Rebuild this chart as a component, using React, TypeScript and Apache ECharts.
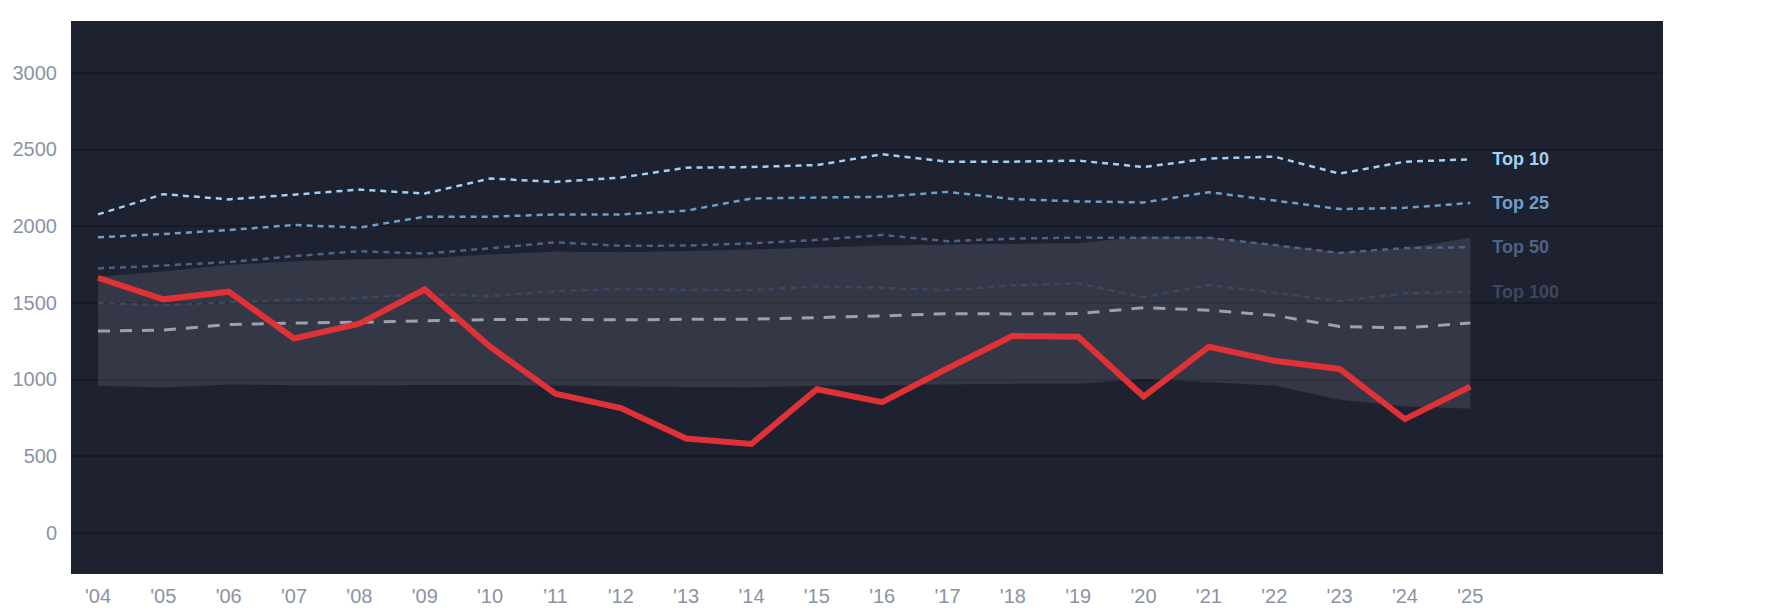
import React, { useEffect, useRef } from "react";
import * as echarts from "echarts";

const years = [2004, 2005, 2006, 2007, 2008, 2009, 2010, 2011, 2012, 2013, 2014, 2015, 2016, 2017, 2018, 2019, 2020, 2021, 2022, 2023, 2024, 2025];
const top10 = [2076, 2208, 2174, 2205, 2238, 2212, 2310, 2288, 2316, 2381, 2385, 2398, 2468, 2420, 2420, 2427, 2385, 2440, 2453, 2342, 2420, 2435];
const top25 = [1927, 1948, 1974, 2007, 1990, 2061, 2061, 2076, 2076, 2100, 2180, 2186, 2191, 2223, 2176, 2161, 2154, 2221, 2167, 2111, 2119, 2150];
const top50 = [1724, 1743, 1765, 1804, 1836, 1820, 1855, 1894, 1871, 1873, 1887, 1910, 1942, 1901, 1918, 1925, 1923, 1923, 1876, 1825, 1857, 1862];
const top100 = [1498, 1483, 1503, 1520, 1531, 1557, 1542, 1576, 1589, 1585, 1581, 1607, 1598, 1581, 1613, 1626, 1537, 1615, 1566, 1511, 1561, 1570];
const median = [1315, 1321, 1358, 1367, 1373, 1382, 1390, 1392, 1388, 1392, 1393, 1403, 1414, 1429, 1427, 1429, 1468, 1451, 1418, 1345, 1336, 1367];
const main = [1663, 1522, 1572, 1267, 1364, 1587, 1213, 906, 813, 614, 579, 936, 852, 1072, 1284, 1278, 888, 1213, 1122, 1068, 741, 953];
const bandUpper = [1670, 1704, 1747, 1771, 1784, 1790, 1814, 1834, 1830, 1838, 1847, 1860, 1873, 1879, 1884, 1888, 1932, 1928, 1880, 1830, 1856, 1922];
const bandLower = [958, 947, 966, 962, 960, 963, 964, 960, 955, 951, 948, 958, 962, 966, 971, 971, 1003, 981, 960, 867, 824, 808];

const FONT = "'Liberation Sans', Arial, Helvetica, sans-serif";
const AXIS_TEXT = "#8a93a5";

const pairs = (vals: number[]) => years.map((y, i) => [y, vals[i]]);

function dottedLine(name: string, vals: number[], color: string) {
  return {
    name,
    type: "line",
    data: pairs(vals),
    symbol: "none",
    z: 3,
    lineStyle: { color, width: 2.5, type: [6, 5] },
    endLabel: {
      show: true,
      formatter: name,
      color,
      fontFamily: FONT,
      fontWeight: "bold",
      fontSize: 18,
      distance: 22,
    },
    emphasis: { disabled: true },
  };
}

export default function App() {
  const ref = useRef<HTMLDivElement>(null);
  useEffect(() => {
    if (!ref.current) return;
    const chart = echarts.init(ref.current, null, { renderer: "svg" });
    chart.setOption({
      animation: false,
      textStyle: { fontFamily: FONT },
      grid: {
        left: 63,
        top: 13,
        width: 1592,
        height: 556,
        show: true,
        backgroundColor: "#1d2130",
        borderWidth: 0,
      },
      xAxis: {
        type: "value",
        min: 2003.587,
        max: 2027.949,
        minInterval: 1,
        maxInterval: 1,
        axisLine: { show: false },
        axisTick: { show: false },
        splitLine: { show: false },
        axisLabel: {
          color: AXIS_TEXT,
          fontSize: 20,
          fontFamily: FONT,
          margin: 12,
          formatter: (v: number) =>
            Number.isInteger(v) && v >= 2004 && v <= 2025 ? "'" + String(v).slice(2) : "",
        },
      },
      yAxis: {
        type: "value",
        min: -269.4,
        max: 3337.5,
        minInterval: 500,
        maxInterval: 500,
        axisLine: { show: false },
        axisTick: { show: false },
        splitLine: {
          show: true,
          showMinLine: false,
          showMaxLine: false,
          lineStyle: { color: "#161a24", width: 2 },
        },
        axisLabel: {
          color: AXIS_TEXT,
          fontSize: 20,
          fontFamily: FONT,
          margin: 14,
          formatter: (v: number) => (Math.abs(v % 500) < 0.001 ? String(v) : ""),
        },
      },
      series: [
        {
          name: "band",
          type: "custom",
          data: years.map((y, i) => [y, bandLower[i], bandUpper[i]]),
          encode: { x: 0, y: [1, 2] },
          z: 1,
          silent: true,
          renderItem: (params: any, api: any) => {
            if (params.dataIndex !== 0) return null;
            const n = years.length;
            const top: number[][] = [];
            const bottom: number[][] = [];
            for (let i = 0; i < n; i++) {
              const x = api.value(0, i);
              top.push(api.coord([x, api.value(2, i)]));
              bottom.push(api.coord([x, api.value(1, i)]));
            }
            return {
              type: "polygon",
              shape: { points: top.concat(bottom.reverse()) },
              style: { fill: "rgba(255,255,255,0.1)", stroke: "none" },
            };
          },
        },
        dottedLine("Top 100", top100, "#3b4860"),
        dottedLine("Top 50", top50, "#4e6383"),
        dottedLine("Top 25", top25, "#6e9fcb"),
        dottedLine("Top 10", top10, "#a3d0f3"),
        {
          name: "median",
          type: "line",
          data: pairs(median),
          symbol: "none",
          z: 4,
          lineStyle: { color: "#9ca1ab", width: 3, type: [12, 10] },
          emphasis: { disabled: true },
        },
        {
          name: "main",
          type: "line",
          data: pairs(main),
          symbol: "none",
          z: 5,
          lineStyle: { color: "#e03236", width: 6, join: "miter" },
          emphasis: { disabled: true },
        },
      ],
    });
    return () => chart.dispose();
  }, []);
  return <div ref={ref} style={{ width: 1769, height: 598 }} />;
}
